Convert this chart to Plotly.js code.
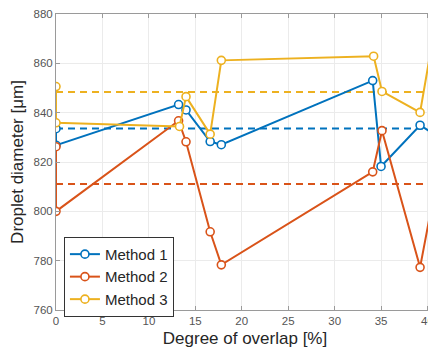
<!DOCTYPE html>
<html>
<head>
<meta charset="utf-8">
<script src="https://cdn.plot.ly/plotly-3.0.1.min.js"></script>
<style>
html,body{margin:0;padding:0;overflow:hidden;background:#fff;}
#chart{width:470px;height:354px;}
</style>
</head>
<body>
<div id="chart"></div>
<script>
// Data
const seriesNames = ["Method 1", "Method 2", "Method 3"];
const colors = ["#0072BD", "#D95319", "#EDB120"];

const m1x = [0, 0, 13.2, 14.0, 16.6, 17.8, 34.1, 35.0, 39.2, 40.6];
const m1y = [833.5, 826.8, 843.3, 841.1, 828.3, 827.0, 853.0, 818.2, 834.9, 831.6];

const m2x = [0, 0, 13.2, 14.0, 16.6, 17.8, 34.1, 35.1, 39.2, 40.6];
const m2y = [826.2, 800.0, 836.7, 828.2, 791.7, 778.3, 816.0, 832.7, 777.3, 805.0];

const m3x = [0, 0, 13.3, 14.0, 16.6, 17.8, 34.2, 35.1, 39.2, 40.6];
const m3y = [850.6, 835.9, 834.4, 846.5, 831.3, 861.2, 862.9, 848.6, 840.1, 870.5];

const meanValues = [833.6, 811.1, 848.4];
const meanX = [0, 40.7];

const xTicks = [0, 5, 10, 15, 20, 25, 30, 35, 40];
const yTicks = [760, 780, 800, 820, 840, 860, 880];

const seriesX = [m1x, m2x, m3x];
const seriesY = [m1y, m2y, m3y];

const traces = [];
meanValues.forEach((v, i) => {
  traces.push({
    x: meanX, y: [v, v], mode: "lines", showlegend: false, hoverinfo: "skip",
    line: {color: colors[i], width: 2, dash: "7px,5px"}
  });
});
seriesX.forEach((xs, i) => {
  traces.push({
    x: xs, y: seriesY[i], name: seriesNames[i], mode: "lines+markers",
    line: {color: colors[i], width: 2},
    marker: {symbol: "circle", size: 8, color: "#ffffff", line: {color: colors[i], width: 1.6}}
  });
});

const FONT = "Liberation Sans, Arial, sans-serif";
const axisCommon = {
  showline: true, linecolor: "#9a9a9a", linewidth: 1, mirror: "ticks",
  ticks: "inside", ticklen: 4, tickcolor: "#9a9a9a", tickwidth: 1,
  showgrid: true, gridcolor: "#ebebeb", gridwidth: 1, zeroline: false,
  tickfont: {family: FONT, size: 11.5, color: "#555555"}
};

const layout = {
  width: 470, height: 354,
  margin: {l: 56, r: 36, t: 14, b: 44},
  paper_bgcolor: "#ffffff", plot_bgcolor: "#ffffff",
  showlegend: true,
  xaxis: Object.assign({}, axisCommon, {
    range: [0, 40.7], tickvals: xTicks, ticktext: xTicks.map(String),
    title: {text: "Degree of overlap [%]", standoff: 6,
      font: {family: FONT, size: 17, color: "#262626"}}
  }),
  yaxis: Object.assign({}, axisCommon, {
    range: [760, 880], tickvals: yTicks, ticktext: yTicks.map(String),
    title: {text: "Droplet diameter [μm]", standoff: 5,
      font: {family: FONT, size: 17, color: "#262626"}}
  }),
  legend: {
    x: 0.021, y: 0.247, xanchor: "left", yanchor: "top",
    bgcolor: "#ffffff", bordercolor: "#333333", borderwidth: 1,
    font: {family: FONT, size: 15, color: "#262626"},
    tracegroupgap: 0, itemwidth: 30
  }
};

Plotly.newPlot("chart", traces, layout, {displayModeBar: false, staticPlot: true});
</script>
</body>
</html>
